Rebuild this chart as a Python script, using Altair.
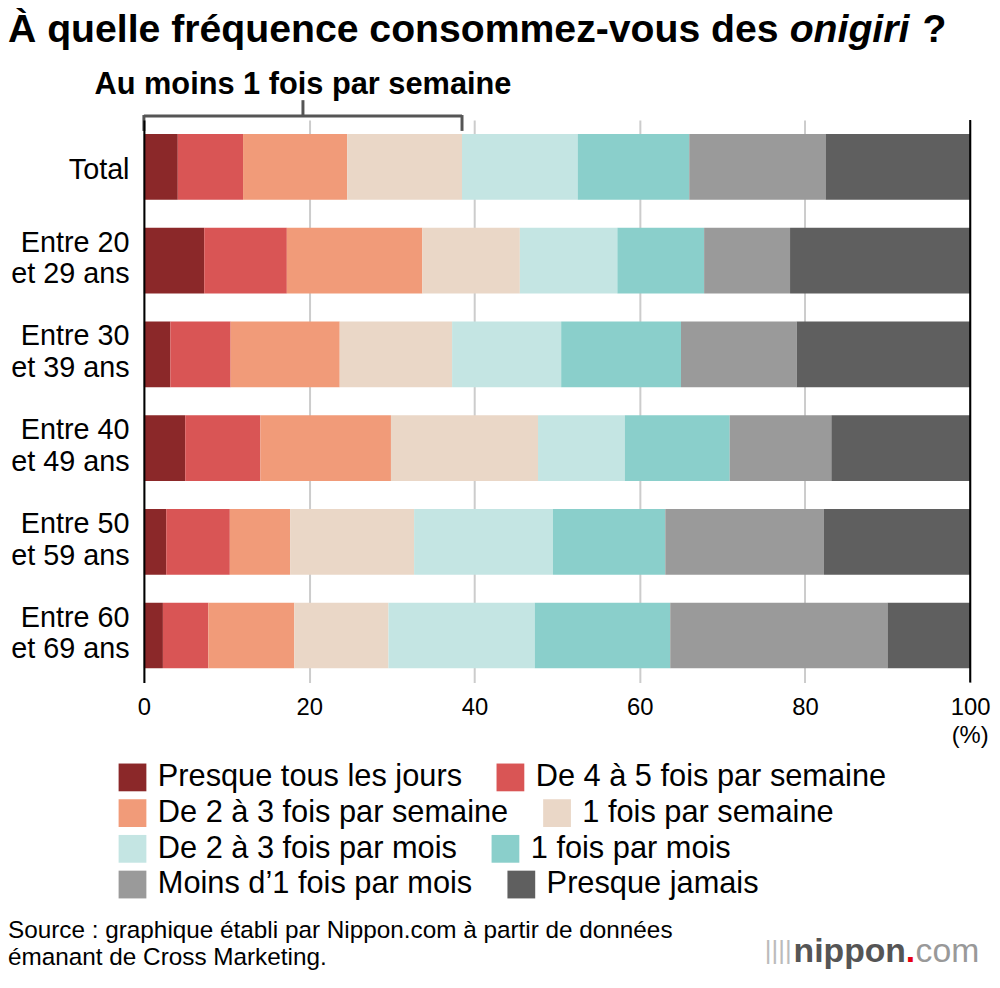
import altair as alt
import pandas as pd

groups = ["Total", "Entre 20\net 29 ans", "Entre 30\net 39 ans", "Entre 40\net 49 ans",
          "Entre 50\net 59 ans", "Entre 60\net 69 ans"]
categories = ["Presque tous les jours", "De 4 à 5 fois par semaine", "De 2 à 3 fois par semaine",
              "1 fois par semaine", "De 2 à 3 fois par mois", "1 fois par mois",
              "Moins d\u20191 fois par mois", "Presque jamais"]
colors = ["#8b2829", "#d95555", "#f19b79", "#ead7c7", "#c4e5e3", "#8acfcb", "#9a9a9a", "#5f5f5f"]

total = [4.1, 7.9, 12.6, 13.9, 14.0, 13.5, 16.5, 17.5]
age_20_29 = [7.3, 10.0, 16.4, 11.8, 11.8, 10.5, 10.4, 21.8]
age_30_39 = [3.2, 7.3, 13.2, 13.6, 13.2, 14.5, 14.0, 21.0]
age_40_49 = [5.0, 9.1, 15.8, 17.8, 10.5, 12.7, 12.3, 16.8]
age_50_59 = [2.7, 7.7, 7.3, 15.0, 16.8, 13.6, 19.2, 17.7]
age_60_69 = [2.3, 5.5, 10.4, 11.4, 17.7, 16.4, 26.3, 10.0]
series = [total, age_20_29, age_30_39, age_40_49, age_50_59, age_60_69]

x_ticks = [0, 20, 40, 60, 80, 100]

title_main = "À quelle fréquence consommez-vous des"
title_italic = "onigiri"
title_end = "?"
bracket_label = "Au moins 1 fois par semaine"
unit_label = "(%)"
source_lines = ["Source : graphique établi par Nippon.com à partir de données",
                "émanant de Cross Marketing."]

FONT = "Liberation Sans"

rows = []
for g, vals in zip(groups, series):
    for i, (c, v) in enumerate(zip(categories, vals)):
        rows.append({"groupe": g, "categorie": c, "ordre": i, "valeur": v})
df = pd.DataFrame(rows)

xscale = alt.Scale(domain=[0, 100], nice=False)
xaxis = alt.Axis(values=x_ticks, title=None, domain=False, ticks=False, labelPadding=13,
                 labelFontSize=24, labelColor="black", grid=True, gridColor="#cccccc",
                 gridWidth=2, labelFlush=False)

bars = alt.Chart(df).mark_bar().encode(
    x=alt.X("valeur:Q", stack="zero", scale=xscale, axis=xaxis),
    y=alt.Y("groupe:N", sort=groups, scale=alt.Scale(paddingInner=0.3, paddingOuter=0.15),
            axis=alt.Axis(title=None, ticks=False, tickSize=0, domain=True, domainColor="black",
                          domainWidth=2, labelFontSize=29, labelLineHeight=32, labelPadding=15,
                          labelColor="black", labelExpr="split(datum.label, '\\n')", zindex=1,
                          grid=False, labelLimit=300,
                          labelOffset={"condition": {"test": "datum.value == 'Total'", "value": 3},
                                       "value": -18})),
    color=alt.Color("categorie:N", scale=alt.Scale(domain=categories, range=colors), legend=None),
    order=alt.Order("ordre:Q"),
)

# legend: one horizontal legend per row of two entries (flowing layout as in the original)
legend_layers = []
for r in range(4):
    cats = categories[2 * r:2 * r + 2]
    cols = colors[2 * r:2 * r + 2]
    ldf = pd.DataFrame({"categorie": cats})
    legend_layers.append(
        alt.Chart(ldf).mark_square(opacity=0, size=0).encode(
            x=alt.value(0), y=alt.value(0),
            color=alt.Color("categorie:N", scale=alt.Scale(domain=cats, range=cols),
                            legend=alt.Legend(title=None, orient="none", legendX=-27,
                                              legendY=647 + 36 * r, direction="horizontal",
                                              symbolType="square", symbolSize=784,
                                              symbolStrokeWidth=0, symbolOpacity=1,
                                              labelFontSize=31, labelOffset=10,
                                              columnPadding=33, labelLimit=600,
                                              labelColor="black")))
    )

# right frame line at 100
right_df = pd.DataFrame({"x": [100]})
right_rule = alt.Chart(right_df).mark_rule(color="black", strokeWidth=2).encode(
    x=alt.X("x:Q", scale=xscale, axis=xaxis))

# bracket for "at least once a week" derived from Total
weekly = sum(total[:4])
br = pd.DataFrame({"x0": [0.0], "x1": [weekly], "xm": [weekly / 2], "t": [bracket_label]})
bc = "#555555"
br_h = alt.Chart(br).mark_rule(color=bc, strokeWidth=3).encode(
    x=alt.X("x0:Q", scale=xscale, axis=xaxis), x2="x1:Q", y=alt.value(-4))
br_l = alt.Chart(br).mark_rule(color=bc, strokeWidth=3).encode(
    x=alt.X("x0:Q", scale=xscale, axis=xaxis), y=alt.value(-5), y2=alt.value(11))
br_r = alt.Chart(br).mark_rule(color=bc, strokeWidth=3).encode(
    x=alt.X("x1:Q", scale=xscale, axis=xaxis), y=alt.value(-5), y2=alt.value(11))
br_c = alt.Chart(br).mark_rule(color=bc, strokeWidth=3).encode(
    x=alt.X("xm:Q", scale=xscale, axis=xaxis), y=alt.value(-20), y2=alt.value(-4))
br_t = alt.Chart(br).mark_text(font=FONT, fontSize=31, fontWeight="bold", align="center",
                               baseline="alphabetic", color="black").encode(
    x=alt.X("xm:Q", scale=xscale, axis=xaxis), y=alt.value(-26), text="t:N")

# unit label
unit_df = pd.DataFrame({"x": [100], "t": [unit_label]})
unit_t = alt.Chart(unit_df).mark_text(font=FONT, fontSize=24, align="center",
                                      baseline="alphabetic", color="black").encode(
    x=alt.X("x:Q", scale=xscale, axis=xaxis), y=alt.value(628), text="t:N")


def txt(s, x, y, size, weight="normal", style="normal", color="black", align="left", font=FONT):
    return alt.Chart(pd.DataFrame({"t": [s]})).mark_text(
        font=font, fontSize=size, fontWeight=weight, fontStyle=style, align=align,
        baseline="alphabetic", color=color).encode(
        x=alt.value(x), y=alt.value(y), text="t:N")


t1 = txt(title_main, -137, -79, 39.5, weight="bold")
t2 = txt(title_italic, 651, -79, 39.5, weight="bold", style="italic")
t3 = txt(title_end, 785, -79, 39.5, weight="bold")

s1 = txt(source_lines[0], -137, 825, 24.5)
s2 = txt(source_lines[1], -137, 852, 24.5)

logo_bars = txt("||||", 626, 846, 26, color="#bbbbbb")
logo1 = txt("nippon", 655, 849, 34, weight="bold", color="#555555")
logo2 = txt(".", 768, 849, 34, weight="bold", color="#e60012")
logo3 = txt("com", 778, 849, 34, color="#999999")

chart = alt.layer(
    bars, *legend_layers, right_rule, br_h, br_l, br_r, br_c, br_t, unit_t, t1, t2, t3, s1, s2,
    logo_bars, logo1, logo2, logo3
).resolve_scale(color="independent").resolve_legend(color="independent").properties(
    width=833, height=567,
    autosize=alt.AutoSizeParams(type="none"),
    padding={"left": 137, "top": 109, "right": 22, "bottom": 288},
).configure(font=FONT).configure_view(stroke=None)

chart.save("out.html", embed_options={"renderer": "svg", "actions": False})
